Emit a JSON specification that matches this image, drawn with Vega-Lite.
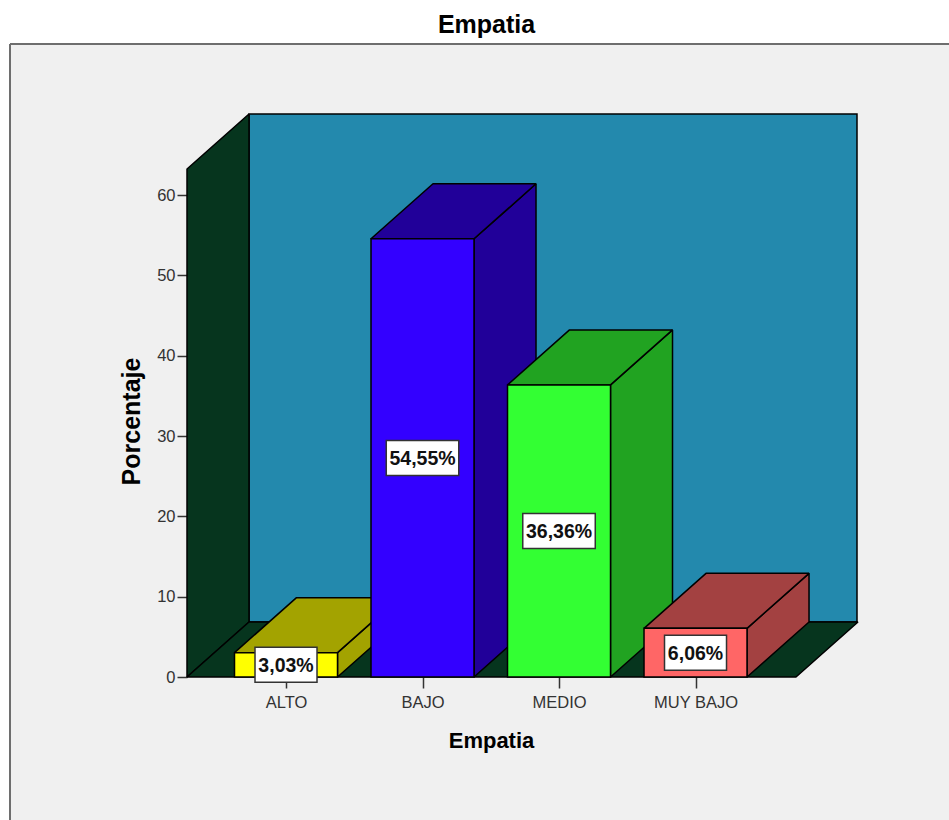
{
  "$schema": "https://vega.github.io/schema/vega-lite/v6.json",
  "autosize": {"type": "none"},
  "padding": {"left": 10, "top": 44, "right": 0, "bottom": 0},
  "width": 939,
  "height": 776,
  "background": "#ffffff",
  "view": {"fill": "#f0f0f0", "stroke": null},
  "title": {
    "text": "Empatia",
    "font": "Liberation Sans",
    "fontSize": 25,
    "fontWeight": "bold",
    "color": "#000000",
    "anchor": "middle",
    "dx": 7,
    "offset": 5
  },
  "params": [
    {"name": "fondoX", "value": 0.4542},
    {"name": "fondoY", "value": 6.847},
    {"name": "medioAncho", "value": 0.3773},
    {"name": "xMin", "value": -2.022},
    {"name": "xMax", "value": 4.857},
    {"name": "yMin", "value": -17.8},
    {"name": "yMax", "value": 78.8}
  ],
  "datasets": {
    "empatia": [
      {"categoria": "ALTO", "porcentaje": 3.03},
      {"categoria": "BAJO", "porcentaje": 54.55},
      {"categoria": "MEDIO", "porcentaje": 36.36},
      {"categoria": "MUY BAJO", "porcentaje": 6.06}
    ],
    "marco": [{"parte": "caja"}]
  },
  "encoding": {
    "x": {
      "field": "x",
      "type": "quantitative",
      "scale": {"domain": [-2.022, 4.857], "nice": false, "zero": false},
      "axis": {
        "orient": "bottom",
        "offset": -143,
        "values": [0, 1, 2, 3],
        "labelExpr": "['ALTO','BAJO','MEDIO','MUY BAJO'][datum.value]",
        "labelFont": "Liberation Sans",
        "labelFontSize": 16.5,
        "labelColor": "#333333",
        "labelPadding": 6,
        "labelOverlap": false,
        "labelFlush": false,
        "tickSize": 11,
        "tickWidth": 1.5,
        "tickColor": "#333333",
        "domain": false,
        "grid": false,
        "title": "Empatia",
        "titleFont": "Liberation Sans",
        "titleFontSize": 22,
        "titleFontWeight": "bold",
        "titleColor": "#000000",
        "titleX": 481,
        "titleY": 63,
        "titleBaseline": "middle",
        "zindex": 0
      }
    },
    "y": {
      "field": "y",
      "type": "quantitative",
      "scale": {"domain": [-17.8, 78.8], "nice": false, "zero": false},
      "axis": {
        "orient": "left",
        "offset": -177,
        "values": [0, 10, 20, 30, 40, 50, 60],
        "format": "d",
        "labelFont": "Liberation Sans",
        "labelFontSize": 16.5,
        "labelColor": "#333333",
        "labelPadding": 2,
        "labelOverlap": false,
        "labelFlush": false,
        "tickSize": 10,
        "tickWidth": 1.5,
        "tickColor": "#333333",
        "domain": false,
        "grid": false,
        "title": "Porcentaje",
        "titleFont": "Liberation Sans",
        "titleFontSize": 25,
        "titleFontWeight": "bold",
        "titleColor": "#000000",
        "titleAngle": 270,
        "titleX": -56,
        "titleY": 377,
        "titleAlign": "center",
        "titleBaseline": "middle",
        "zindex": 0
      }
    }
  },
  "layer": [
    {
      "data": {"name": "marco"},
      "transform": [
        {"calculate": "xMin", "as": "x"},
        {"calculate": "xMax", "as": "x2"},
        {"calculate": "yMax", "as": "y"}
      ],
      "mark": {"type": "rule", "stroke": "#6e6e6e", "strokeWidth": 2},
      "encoding": {"x2": {"field": "x2"}}
    },
    {
      "data": {"name": "marco"},
      "transform": [
        {"calculate": "xMin", "as": "x"},
        {"calculate": "yMin", "as": "y"},
        {"calculate": "yMax", "as": "y2"}
      ],
      "mark": {"type": "rule", "stroke": "#6e6e6e", "strokeWidth": 2},
      "encoding": {"y2": {"field": "y2"}}
    },
    {
      "data": {"name": "marco"},
      "transform": [
        {"calculate": "-0.7253 + fondoX", "as": "x"},
        {"calculate": "4.183", "as": "x2"},
        {"calculate": "fondoY", "as": "y"},
        {"calculate": "63.24 + fondoY", "as": "y2"}
      ],
      "mark": {"type": "rect", "fill": "#2389ad", "stroke": "#000000", "strokeWidth": 1.5},
      "encoding": {"x2": {"field": "x2"}, "y2": {"field": "y2"}}
    },
    {
      "data": {"name": "marco"},
      "transform": [
        {"calculate": "[0, 1]", "as": "paso"},
        {"flatten": ["paso"]},
        {"calculate": "-0.7253 + datum.paso * fondoX", "as": "x"},
        {"calculate": "datum.paso * fondoY", "as": "y"},
        {"calculate": "63.24 + datum.paso * fondoY", "as": "y2"}
      ],
      "mark": {"type": "area", "fill": "#06351e", "stroke": "#000000", "strokeWidth": 1.5, "strokeJoin": "bevel"},
      "encoding": {"y2": {"field": "y2"}}
    },
    {
      "data": {"name": "marco"},
      "transform": [
        {"calculate": "[0, 1]", "as": "paso"},
        {"flatten": ["paso"]},
        {"calculate": "-0.7253 + datum.paso * fondoX", "as": "x"},
        {"calculate": "3.736 + datum.paso * fondoX", "as": "x2"},
        {"calculate": "datum.paso * fondoY", "as": "y"}
      ],
      "mark": {"type": "area", "orient": "horizontal", "fill": "#06351e", "stroke": "#000000", "strokeWidth": 1.5, "strokeJoin": "bevel"},
      "encoding": {"x2": {"field": "x2"}}
    },
    {
      "data": {"name": "empatia"},
      "transform": [
        {"calculate": "indexof(['ALTO','BAJO','MEDIO','MUY BAJO'], datum.categoria)", "as": "pos"},
        {"calculate": "replace(format(datum.porcentaje, '.2f'), '.', ',') + '%'", "as": "etiqueta"}
      ],
      "layer": [
        {
          "transform": [
            {"calculate": "[0, 1]", "as": "paso"},
            {"flatten": ["paso"]},
            {"calculate": "datum.pos + medioAncho + datum.paso * fondoX", "as": "x"},
            {"calculate": "datum.paso * fondoY", "as": "y"},
            {"calculate": "datum.porcentaje + datum.paso * fondoY", "as": "y2"}
          ],
          "mark": {"type": "area", "stroke": "#000000", "strokeWidth": 1.5, "strokeJoin": "bevel"},
          "encoding": {
            "y2": {"field": "y2"},
            "detail": {"field": "categoria"},
            "color": {
              "field": "categoria",
              "type": "nominal",
              "scale": {
                "domain": ["ALTO", "BAJO", "MEDIO", "MUY BAJO"],
                "range": ["#a3a300", "#210099", "#21a321", "#a34141"]
              },
              "legend": null
            }
          }
        },
        {
          "transform": [
            {"calculate": "[0, 1]", "as": "paso"},
            {"flatten": ["paso"]},
            {"calculate": "datum.pos - medioAncho + datum.paso * fondoX", "as": "x"},
            {"calculate": "datum.pos + medioAncho + datum.paso * fondoX", "as": "x2"},
            {"calculate": "datum.porcentaje + datum.paso * fondoY", "as": "y"}
          ],
          "mark": {"type": "area", "orient": "horizontal", "stroke": "#000000", "strokeWidth": 1.5, "strokeJoin": "bevel"},
          "encoding": {
            "x2": {"field": "x2"},
            "detail": {"field": "categoria"},
            "color": {
              "field": "categoria",
              "type": "nominal",
              "scale": {
                "domain": ["ALTO", "BAJO", "MEDIO", "MUY BAJO"],
                "range": ["#a3a300", "#210099", "#21a321", "#a34141"]
              },
              "legend": null
            }
          }
        },
        {
          "transform": [
            {"calculate": "datum.pos - medioAncho", "as": "x"},
            {"calculate": "datum.pos + medioAncho", "as": "x2"},
            {"calculate": "0", "as": "y"},
            {"calculate": "datum.porcentaje", "as": "y2"}
          ],
          "mark": {"type": "rect", "stroke": "#000000", "strokeWidth": 1.5},
          "encoding": {
            "x2": {"field": "x2"},
            "y2": {"field": "y2"},
            "fill": {
              "field": "categoria",
              "type": "nominal",
              "scale": {
                "domain": ["ALTO", "BAJO", "MEDIO", "MUY BAJO"],
                "range": ["#ffff00", "#3300ff", "#33ff33", "#ff6666"]
              },
              "legend": null
            }
          }
        },
        {
          "transform": [
            {"calculate": "(length(datum.etiqueta) * 10.5 + 9.5) / 273", "as": "mitad"},
            {"calculate": "datum.pos - datum.mitad", "as": "x"},
            {"calculate": "datum.pos + datum.mitad", "as": "x2"},
            {"calculate": "datum.porcentaje / 2 - 2.18", "as": "y"},
            {"calculate": "datum.porcentaje / 2 + 2.18", "as": "y2"}
          ],
          "mark": {"type": "rect", "fill": "#ffffff", "stroke": "#333333", "strokeWidth": 1.5},
          "encoding": {"x2": {"field": "x2"}, "y2": {"field": "y2"}}
        },
        {
          "transform": [
            {"calculate": "datum.pos", "as": "x"},
            {"calculate": "datum.porcentaje / 2", "as": "y"}
          ],
          "mark": {
            "type": "text",
            "font": "Liberation Sans",
            "fontSize": 19.5,
            "fontWeight": "bold",
            "fill": "#111111",
            "align": "center",
            "baseline": "middle",
            "dy": 1.5
          },
          "encoding": {"text": {"field": "etiqueta", "type": "nominal"}}
        }
      ]
    }
  ]
}
